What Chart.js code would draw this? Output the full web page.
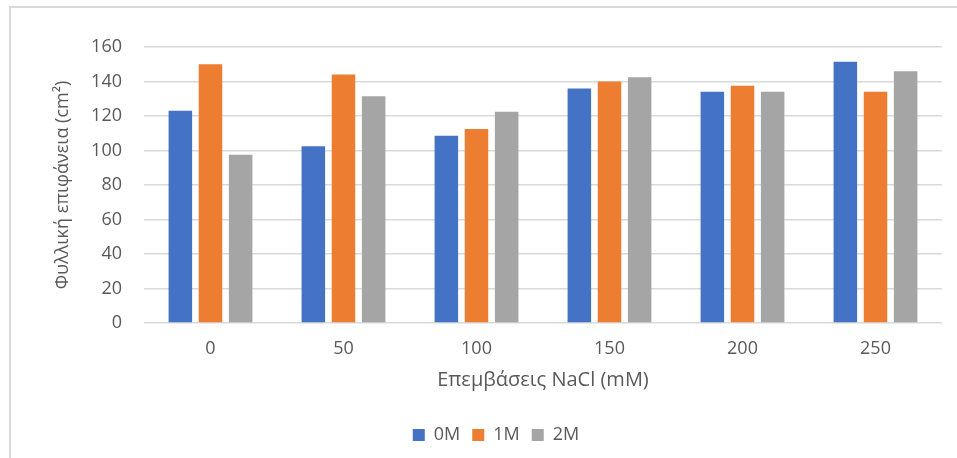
<!DOCTYPE html>
<html>
<head>
<meta charset="utf-8">
<script src="https://cdn.jsdelivr.net/npm/chart.js@4"></script>
<style>
  html, body { margin: 0; padding: 0; background: #fff; }
  #wrap { position: relative; width: 957px; height: 458px; }
  #frame { position: absolute; left: 9px; top: 6px; right: 0; bottom: 0;
           border-top: 2px solid #d9d9d9; border-left: 2px solid #d9d9d9; }
  canvas { position: absolute; left: 0; top: 0; }
</style>
</head>
<body>
<div id="wrap">
  <div id="frame"></div>
  <canvas id="chart" width="957" height="458"></canvas>
</div>
<script>
const categories = ['0', '50', '100', '150', '200', '250'];
const series0M = [123, 102.5, 108.5, 136, 134, 151.5];
const series1M = [150, 144, 112.5, 140, 137.5, 134];
const series2M = [97.5, 131.5, 122.5, 142.5, 134, 146];
const yTicks = [0, 20, 40, 60, 80, 100, 120, 140, 160];

const textCol = '#595959';
const gridCol = '#d9d9d9';
const fontFam = "'Open Sans', sans-serif";

Chart.defaults.font.family = fontFam;
Chart.defaults.color = textCol;

new Chart(document.getElementById('chart').getContext('2d'), {
  type: 'bar',
  data: {
    labels: categories,
    datasets: [
      { label: '0M', data: series0M, backgroundColor: '#4472c4' },
      { label: '1M', data: series1M, backgroundColor: '#ed7d31' },
      { label: '2M', data: series2M, backgroundColor: '#a5a5a5' },
    ]
  },
  options: {
    responsive: false,
    animation: false,
    datasets: { bar: { categoryPercentage: 0.68, barPercentage: 0.78 } },
    layout: { padding: { left: 50, right: 15, top: 47, bottom: 4 } },
    plugins: {
      tooltip: { enabled: false },
      legend: {
        position: 'bottom',
        labels: { boxWidth: 12, boxHeight: 12, padding: 12, font: { size: 18 }, color: textCol }
      }
    },
    scales: {
      x: {
        grid: { display: false },
        border: { display: false },
        ticks: { font: { size: 18 }, padding: 7, color: textCol },
        title: { display: true, text: 'Επεμβάσεις NaCl (mM)', font: { size: 20 }, color: textCol, padding: { top: 0, bottom: 22 } },
        afterFit: s => { s.height = 91; }
      },
      y: {
        min: 0, max: 160,
        afterBuildTicks: s => { s.ticks = yTicks.map(v => ({ value: v })); },
        grid: { color: gridCol, lineWidth: 1.5, drawTicks: false },
        border: { display: false },
        ticks: { font: { size: 18 }, padding: 22, color: textCol },
        title: { display: true, text: 'Φυλλική επιφάνεια (cm²)', font: { size: 18 }, color: textCol, padding: { top: 2, bottom: 0 } },
        afterFit: s => { s.width = 94; }
      }
    }
  }
});
</script>
</body>
</html>
